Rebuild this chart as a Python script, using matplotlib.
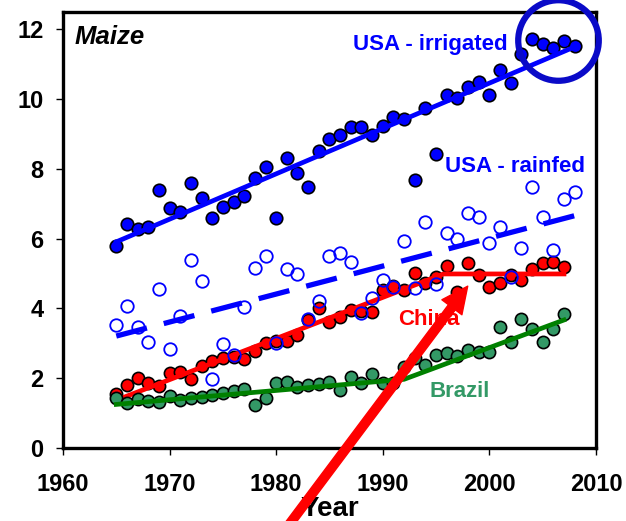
import matplotlib
matplotlib.use('Agg')
import matplotlib.pyplot as plt

plt.rcParams['font.family'] = ['Liberation Sans', 'DejaVu Sans']
plt.rcParams['font.weight'] = 'bold'

# maize yields (t/ha)
years_usa = list(range(1965, 2009))
years_other = list(range(1965, 2008))

usa_irrigated = [5.80, 6.41, 6.27, 6.34, 7.41, 6.87, 6.77, 7.61, 7.17, 6.58,
                 6.91, 7.06, 7.22, 7.73, 8.06, 6.58, 8.32, 7.89, 7.47, 8.52,
                 8.87, 8.98, 9.20, 9.20, 8.97, 9.23, 9.48, 9.43, 7.68, 9.74,
                 8.42, 10.11, 10.03, 10.34, 10.49, 10.11, 10.83, 10.46, 11.29, 11.72,
                 11.58, 11.46, 11.66, 11.52]
usa_rainfed = [3.52, 4.07, 3.48, 3.05, 4.55, 2.84, 3.78, 5.39, 4.79, 1.98,
               2.97, 2.68, 4.03, 5.17, 5.50, 3.00, 5.12, 5.00, 3.69, 4.22,
               5.50, 5.60, 5.34, 3.86, 4.29, 4.81, 4.62, 5.93, 4.58, 6.48,
               4.70, 6.15, 5.98, 6.74, 6.61, 5.89, 6.34, 4.91, 5.72, 7.49,
               6.61, 5.69, 7.13, 7.33]
china = [1.55, 1.80, 2.00, 1.85, 1.79, 2.14, 2.19, 1.97, 2.36, 2.49,
         2.57, 2.60, 2.54, 2.79, 3.02, 3.07, 3.08, 3.24, 3.66, 4.00,
         3.62, 3.76, 3.97, 3.93, 3.91, 4.53, 4.64, 4.53, 5.02, 4.74,
         4.91, 5.21, 4.46, 5.31, 4.96, 4.62, 4.72, 4.96, 4.83, 5.12,
         5.31, 5.34, 5.18]
brazil = [1.42, 1.30, 1.40, 1.35, 1.33, 1.49, 1.38, 1.42, 1.47, 1.52,
          1.57, 1.64, 1.68, 1.23, 1.42, 1.85, 1.90, 1.76, 1.80, 1.83,
          1.90, 1.66, 2.03, 1.87, 2.12, 1.87, 1.85, 2.33, 2.57, 2.38,
          2.66, 2.73, 2.64, 2.81, 2.76, 2.76, 3.46, 3.05, 3.70, 3.42,
          3.05, 3.40, 3.84]

# trend lines (knots)
irrigated_trend_years = [1965, 2008]
irrigated_trend = [5.91, 11.50]
rainfed_trend_years = [1965, 2008]
rainfed_trend = [3.21, 6.66]
china_trend_years = [1965, 1995.7, 2007]
china_trend = [1.37, 4.99, 4.99]
brazil_trend_years = [1965, 1992, 2007]
brazil_trend = [1.25, 1.97, 3.67]

year_ticks = [1960, 1970, 1980, 1990, 2000, 2010]
yield_ticks = [0, 2, 4, 6, 8, 10, 12]

BLUE = '#0000ff'
RED = '#ff0000'
SEA = '#339966'

fig = plt.figure(figsize=(6.26, 5.21), dpi=100)
ax = fig.add_axes([0.1006, 0.1401, 0.8514, 0.8369])

# China
ax.plot(years_other, china, 'o', ms=8.8, mfc=RED, mec='black', mew=1.2, zorder=3)
ax.plot(china_trend_years, china_trend, '-', color=RED, lw=3.4, zorder=4)

# Brazil
ax.plot(years_other, brazil, 'o', ms=8.8, mfc=SEA, mec='black', mew=1.2, zorder=5)
ax.plot(brazil_trend_years, brazil_trend, '-', color='#008000', lw=3.4, zorder=6)

# USA rainfed (open circles, dashed trend)
ax.plot(years_usa, usa_rainfed, 'o', ms=9, mfc='none', mec=BLUE, mew=1.3, zorder=7)
ax.plot(rainfed_trend_years, rainfed_trend, color=BLUE, lw=3.8, zorder=7,
        dashes=(6.0, 3.3), solid_capstyle='butt', dash_capstyle='butt')

# USA irrigated
ax.plot(years_usa, usa_irrigated, 'o', ms=9, mfc=BLUE, mec='black', mew=1.2, zorder=8)
ax.plot(irrigated_trend_years, irrigated_trend, '-', color=BLUE, lw=3.4, zorder=9)

ax.set_xlim(1960, 2010)
ax.set_ylim(0, 12.5)
ax.set_xticks(year_ticks)
ax.set_yticks(yield_ticks)
ax.tick_params(axis='x', direction='out', length=5, width=1, pad=13, labelsize=17)
ax.tick_params(axis='y', direction='out', length=5, width=1, pad=9, labelsize=17)
for spine in ax.spines.values():
    spine.set_linewidth(2.4)
ax.set_xlabel('Year', fontsize=20, fontweight='bold', labelpad=0)

# labels
ax.text(1961.1, 11.57, 'Maize', fontsize=18.5, fontweight='bold', style='italic',
        ha='left', va='baseline')
ax.text(1987.2, 11.40, 'USA - irrigated', color=BLUE, fontsize=16, ha='left', va='baseline',
        zorder=10)
ax.text(1995.8, 7.91, 'USA - rainfed', color=BLUE, fontsize=16, ha='left', va='baseline',
        zorder=10)
ax.text(1991.4, 3.52, 'China', color=RED, fontsize=16, ha='left', va='baseline', zorder=10)
ax.text(1994.4, 1.45, 'Brazil', color=SEA, fontsize=16, ha='left', va='baseline', zorder=10)

# highlight ring round the latest irrigated yields
ax.plot([2006.43], [11.69], 'o', ms=58, mfc='none', mec='#0a0ac8', mew=4.5,
        clip_on=False, zorder=11)

# big red arrow pointing at China's plateau
ax.annotate('', xy=(1997.97, 4.64), xytext=(1981.2, -2.2), xycoords='data',
            textcoords='data', annotation_clip=False,
            arrowprops=dict(facecolor=RED, edgecolor=RED, width=6.2,
                            headwidth=18, headlength=19, shrink=0),
            zorder=12)

plt.savefig('out.png', dpi=100)
